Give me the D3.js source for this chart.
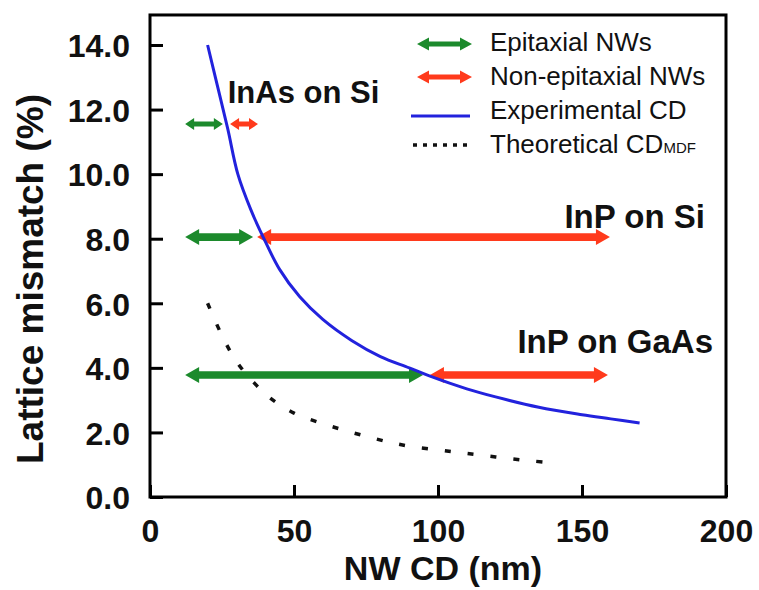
<!DOCTYPE html>
<html>
<head>
<meta charset="utf-8">
<script src="https://cdn.jsdelivr.net/npm/d3@7"></script>
<style>
  body { margin: 0; background: #fff; }
  text { font-family: "Liberation Sans", Arial, sans-serif; fill: #111; }
</style>
</head>
<body>
<svg></svg>
<script>
// NW critical diameter vs lattice mismatch
var xTicks = [0, 50, 100, 150, 200];
var yTicks = [0, 2, 4, 6, 8, 10, 12, 14];

// experimental CD curve (blue)
var expCD = [20, 23.5, 27, 30.5, 35, 39.3, 45, 52, 60, 70, 80, 90, 97, 110, 120, 135, 150, 160, 170];
var expMismatch = [14.0, 12.7, 11.4, 10.0, 8.9, 8.05, 7.05, 6.2, 5.5, 4.85, 4.35, 4.0, 3.75, 3.35, 3.1, 2.78, 2.55, 2.42, 2.29];

// theoretical CD_MDF (dotted)
var theoCD = [20, 25, 30, 36, 42, 50, 59, 67, 75, 83, 91, 101, 110, 120, 130, 138];
var theoMismatch = [6.0, 5.0, 4.2, 3.55, 3.05, 2.6, 2.3, 2.08, 1.88, 1.7, 1.56, 1.45, 1.35, 1.24, 1.14, 1.07];

// material systems with epitaxial / non-epitaxial ranges
var systems = ["InAs on Si", "InP on Si", "InP on GaAs"];
var mismatch = [11.55, 8.05, 3.78];
var epiRange = [[12.2, 25.3], [12.2, 35.8], [12.2, 94.8]];
var nonEpiRange = [[27.8, 37.5], [37.2, 159.7], [97.2, 159]];
var labelX = [27, 192.7, 195.5];

var legendNames = ["Epitaxial NWs", "Non-epitaxial NWs", "Experimental CD", "Theoretical CD"];

var green = "#1c8a2c", red = "#ff3a1c", blue = "#2222dd";

var screen = { width: 759, height: 590 };

var svg = d3.select("svg")
            .attr("width", screen.width)
            .attr("height", screen.height);

var xScale = d3.scaleLinear()
               .domain([0, 200])
               .range([150, 726]);

var yScale = d3.scaleLinear()
               .domain([0, 14])
               .range([497, 45]);

// frame
svg.append("rect")
   .attr("x", xScale(0))
   .attr("y", yScale(14.93))
   .attr("width", xScale(200) - xScale(0))
   .attr("height", yScale(0) - yScale(14.93))
   .attr("fill", "none")
   .attr("stroke", "#000")
   .attr("stroke-width", 3);

var yAxis = svg.append("g")
               .attr("transform", "translate(" + xScale(0) + ",0)")
               .call(d3.axisLeft(yScale)
                       .tickValues(yTicks)
                       .tickFormat(d3.format(".1f"))
                       .tickSizeInner(-13)
                       .tickSizeOuter(0)
                       .tickPadding(20));

var xAxis = svg.append("g")
               .attr("transform", "translate(0," + yScale(0) + ")")
               .call(d3.axisBottom(xScale)
                       .tickValues(xTicks)
                       .tickSizeInner(-12)
                       .tickSizeOuter(0)
                       .tickPadding(22));

svg.selectAll(".domain").remove();
svg.selectAll(".tick line").attr("stroke", "#000").attr("stroke-width", 3);
svg.selectAll(".tick text")
   .attr("fill", "#111")
   .style("font-size", "32px")
   .style("font-weight", "bold")
   .style("font-family", "'Liberation Sans', Arial, sans-serif");
yAxis.selectAll(".tick text").attr("dy", "0.37em");

// axis titles
svg.append("text")
   .attr("x", 443)
   .attr("y", 580)
   .attr("text-anchor", "middle")
   .style("font-size", "34px")
   .style("font-weight", "bold")
   .text("NW CD (nm)");

svg.append("text")
   .attr("transform", "translate(43,279) rotate(-90)")
   .attr("text-anchor", "middle")
   .style("font-size", "37px")
   .style("font-weight", "bold")
   .text("Lattice mismatch (%)");

// curves
var line = d3.line()
             .x(function(d) { return xScale(d[0]); })
             .y(function(d) { return yScale(d[1]); })
             .curve(d3.curveCatmullRom);

svg.append("path")
   .datum(d3.zip(theoCD, theoMismatch))
   .attr("d", line)
   .attr("fill", "none")
   .attr("stroke", "#111")
   .attr("stroke-width", 3.5)
   .attr("stroke-dasharray", "6,17");

// double headed arrow shape
var arrowPath = function(x1, x2, y, shaft, headLen, headHalf)
{
  return "M" + x1 + "," + y +
         "L" + (x1 + headLen) + "," + (y - headHalf) +
         "L" + (x1 + headLen) + "," + (y - shaft) +
         "L" + (x2 - headLen) + "," + (y - shaft) +
         "L" + (x2 - headLen) + "," + (y - headHalf) +
         "L" + x2 + "," + y +
         "L" + (x2 - headLen) + "," + (y + headHalf) +
         "L" + (x2 - headLen) + "," + (y + shaft) +
         "L" + (x1 + headLen) + "," + (y + shaft) +
         "L" + (x1 + headLen) + "," + (y + headHalf) + "Z";
};

var arrows = svg.append("g");

systems.forEach(function(s, i)
{
  var small = i == 0;
  var sh = small ? 2.5 : 3.8;
  var hl = small ? 9 : 14;
  var hh = small ? 6 : 8;
  arrows.append("path")
        .attr("d", arrowPath(xScale(epiRange[i][0]), xScale(epiRange[i][1]), yScale(mismatch[i]), sh, hl, hh))
        .attr("fill", green);
  arrows.append("path")
        .attr("d", arrowPath(xScale(nonEpiRange[i][0]), xScale(nonEpiRange[i][1]), yScale(mismatch[i]), sh, hl, hh))
        .attr("fill", red);
});

svg.append("path")
   .datum(d3.zip(expCD, expMismatch))
   .attr("d", line)
   .attr("fill", "none")
   .attr("stroke", blue)
   .attr("stroke-width", 3);

// system labels
svg.selectAll(".syslabel")
   .data(systems)
   .enter()
   .append("text")
   .attr("class", "syslabel")
   .attr("x", function(d, i) { return xScale(labelX[i]); })
   .attr("y", function(d, i) { return yScale(mismatch[i]) - [21, 9, 22][i]; })
   .attr("text-anchor", function(d, i) { return i == 0 ? "start" : "end"; })
   .style("font-size", function(d, i) { return i == 0 ? "31px" : "33px"; })
   .style("font-weight", "bold")
   .text(function(d) { return d; });

// legend
var legend = svg.append("g");
var rowY = [44, 77, 112, 145];
var textY = [51, 85, 119, 153];

legend.append("path").attr("d", arrowPath(417, 472, rowY[0], 2.5, 12, 6.5)).attr("fill", green);
legend.append("path").attr("d", arrowPath(417, 472, rowY[1], 2.5, 12, 6.5)).attr("fill", red);
legend.append("line")
      .attr("x1", 411).attr("x2", 470)
      .attr("y1", 116).attr("y2", 116)
      .attr("stroke", blue).attr("stroke-width", 3);
legend.append("line")
      .attr("x1", 413).attr("x2", 472)
      .attr("y1", rowY[3]).attr("y2", rowY[3])
      .attr("stroke", "#111").attr("stroke-width", 3.5)
      .attr("stroke-dasharray", "4,6");

var lt = legend.selectAll(".lt")
               .data(legendNames)
               .enter()
               .append("text")
               .attr("class", "lt")
               .attr("x", 490)
               .attr("y", function(d, i) { return textY[i]; })
               .style("font-size", "26px")
               .text(function(d) { return d; });

lt.filter(function(d, i) { return i == 3; })
  .append("tspan")
  .style("font-size", "15px")
  .text("MDF");
</script>
</body>
</html>
